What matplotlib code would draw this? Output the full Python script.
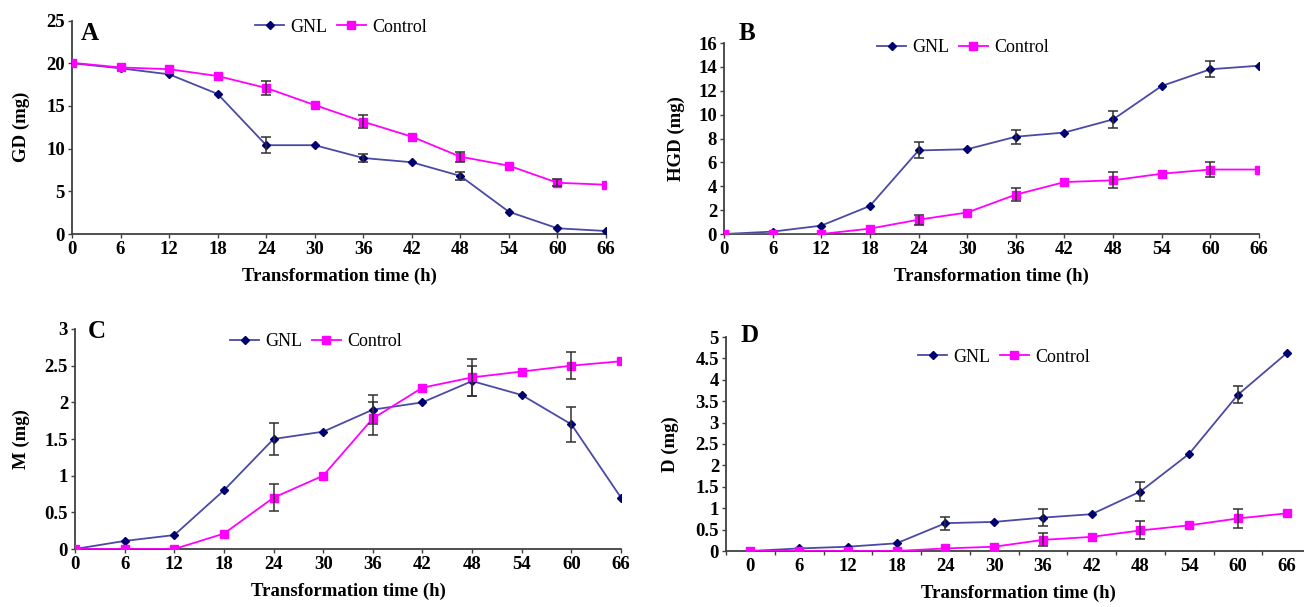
import numpy as np
import matplotlib
matplotlib.use('Agg')
import matplotlib.pyplot as plt

plt.rcParams['font.family'] = ['Liberation Serif', 'DejaVu Serif']

time = [0, 6, 12, 18, 24, 30, 36, 42, 48, 54, 60, 66]

# A: GD (mg)
gd_gnl = [20, 19.4, 18.7, 16.4, 10.4, 10.4, 8.9, 8.4, 6.8, 2.6, 0.67, 0.35]
gd_gnl_err = [0, 0, 0, 0, 0.9, 0, 0.5, 0, 0.45, 0, 0, 0]
gd_ctrl = [20.05, 19.5, 19.3, 18.5, 17.1, 15.1, 13.15, 11.4, 9.05, 8.0, 6.0, 5.77]
gd_ctrl_err = [0, 0, 0, 0, 0.8, 0, 0.75, 0, 0.6, 0, 0.4, 0]

# B: HGD (mg)
hgd_gnl = [0, 0.2, 0.7, 2.35, 7.0, 7.1, 8.15, 8.5, 9.6, 12.4, 13.8, 14.1]
hgd_gnl_err = [0, 0, 0, 0, 0.67, 0, 0.6, 0, 0.7, 0, 0.68, 0]
hgd_ctrl = [0, 0, 0, 0.45, 1.2, 1.8, 3.3, 4.35, 4.5, 5.05, 5.4, 5.4]
hgd_ctrl_err = [0, 0, 0, 0, 0.42, 0, 0.56, 0, 0.67, 0, 0.59, 0]

# C: M (mg)
m_gnl = [0, 0.11, 0.19, 0.8, 1.5, 1.6, 1.9, 2.0, 2.29, 2.1, 1.7, 0.7]
m_gnl_err = [0, 0, 0, 0, 0.22, 0, 0.2, 0, 0.2, 0, 0.24, 0]
m_ctrl = [0, 0, 0, 0.21, 0.7, 1.0, 1.78, 2.2, 2.34, 2.42, 2.5, 2.56]
m_ctrl_err = [0, 0, 0, 0, 0.18, 0, 0.23, 0, 0.25, 0, 0.18, 0]

# D: D (mg)
d_gnl = [0, 0.06, 0.1, 0.18, 0.65, 0.68, 0.78, 0.86, 1.39, 2.27, 3.65, 4.62]
d_gnl_err = [0, 0, 0, 0, 0.15, 0, 0.2, 0, 0.23, 0, 0.2, 0]
d_ctrl = [0, 0, 0, 0, 0.06, 0.1, 0.26, 0.33, 0.48, 0.6, 0.76, 0.88]
d_ctrl_err = [0, 0, 0, 0, 0, 0, 0.15, 0, 0.21, 0, 0.22, 0]

W, H = 1304, 607
fig = plt.figure(figsize=(W / 100, H / 100), dpi=100)


def box(left, right, top, bottom):
    return [left / W, 1 - bottom / H, (right - left) / W, (bottom - top) / H]


def draw(ax, gnl, gnl_err, ctrl, ctrl_err):
    t = np.array(time)
    for vals, errs, lc, mc, mk, ms in [
        (gnl, gnl_err, '#4a4aa6', '#000070', 'D', 4),
        (ctrl, ctrl_err, '#ff00ff', '#ff00ff', 's', 5.5),
    ]:
        vals = np.array(vals)
        errs = np.array(errs)
        ax.plot(t, vals, color=lc, lw=1.3, marker=mk, ms=ms,
                mfc=mc, mec=mc, zorder=3)
        keep = errs > 0
        ax.errorbar(t[keep], vals[keep], yerr=errs[keep], fmt='none',
                    ecolor='#303030', elinewidth=1.1, capsize=3.5,
                    capthick=1.1, zorder=4)
    for s in ['top', 'right']:
        ax.spines[s].set_visible(False)
    for s in ['left', 'bottom']:
        ax.spines[s].set_color('#404040')
        ax.spines[s].set_linewidth(1.3)
    ax.tick_params(direction='out', length=3, width=1, color='#404040',
                   labelsize=13.5, pad=2)


def legend(ax, cx, cy):
    ax.legend(['GNL', 'Control'], loc='center', ncol=2, frameon=False,
              bbox_to_anchor=(cx / W, 1 - cy / H),
              bbox_transform=fig.transFigure, fontsize=13,
              handlelength=1.6, handletextpad=0.35, columnspacing=0.5)


panels = [
    ('A', box(72, 606, 20.5, 234), gd_gnl, gd_gnl_err, gd_ctrl, gd_ctrl_err,
     25, 5, 'GD (mg)', 30, (90, 33), (341, 27)),
    ('B', box(724, 1259, 43, 234), hgd_gnl, hgd_gnl_err, hgd_ctrl, hgd_ctrl_err,
     16, 2, 'HGD (mg)', 685, (747, 33), (963, 48)),
    ('C', box(75, 621, 329, 549), m_gnl, m_gnl_err, m_ctrl, m_ctrl_err,
     3, 0.5, 'M (mg)', 30, (97, 332), (316, 342)),
    ('D', box(726, 1311, 337, 551), d_gnl, d_gnl_err, d_ctrl, d_ctrl_err,
     5, 0.5, 'D (mg)', 679, (750, 335), (1004, 357)),
]

for name, rect, g, ge, c, ce, ymax, ystep, ylab, ylx, lpos, legpos in panels:
    ax = fig.add_axes(rect)
    draw(ax, g, ge, c, ce)
    ax.set_ylim(0, ymax)
    yt = np.arange(0, ymax + ystep / 2, ystep)
    ax.set_yticks(yt)
    ax.set_yticklabels(['%g' % v for v in yt], fontweight='bold')
    if name == 'D':
        ax.set_xlim(-3, 69)
        ax.set_xticks(time)
        ax.set_xticks(np.arange(-3, 70, 6), minor=True)
        ax.tick_params(axis='x', which='major', length=0, pad=5)
        ax.tick_params(axis='x', which='minor', direction='out', length=3,
                       width=1, color='#404040')
    else:
        ax.set_xlim(0, 66)
        ax.set_xticks(time)
    ax.set_xticklabels([str(v) for v in time], fontweight='bold')
    ax.set_xlabel('Transformation time (h)', fontsize=13.5,
                  fontweight='bold', labelpad=7)
    ax.set_ylabel(ylab, fontsize=13.5, fontweight='bold')
    ax.yaxis.set_label_coords((ylx - rect[0] * W) / (rect[2] * W), 0.5)
    legend(ax, *legpos)
    fig.text(lpos[0] / W, 1 - lpos[1] / H, name, fontsize=18,
             fontweight='bold', ha='center', va='center')

fig.savefig('out.png', dpi=100)
